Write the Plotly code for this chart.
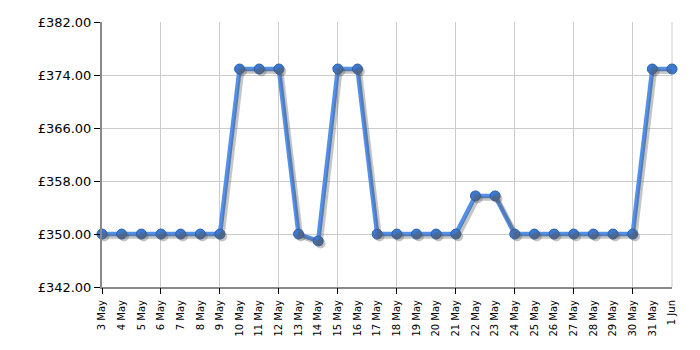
import plotly.graph_objects as go

dates = ["3 May", "4 May", "5 May", "6 May", "7 May", "8 May", "9 May", "10 May",
         "11 May", "12 May", "13 May", "14 May", "15 May", "16 May", "17 May",
         "18 May", "19 May", "20 May", "21 May", "22 May", "23 May", "24 May",
         "25 May", "26 May", "27 May", "28 May", "29 May", "30 May", "31 May", "1 Jun"]
prices = [349.99, 349.99, 349.99, 349.99, 349.99, 349.99, 349.99, 374.9,
          374.9, 374.9, 349.99, 348.95, 374.9, 374.9, 349.99,
          349.99, 349.99, 349.99, 349.99, 355.75, 355.75, 349.99,
          349.99, 349.99, 349.99, 349.99, 349.99, 349.99, 374.9, 374.9]
y_ticks = [342, 350, 358, 366, 374, 382]
y_labels = ["£%.2f" % v for v in y_ticks]
grid_every = 3

n = len(dates)
idx = list(range(n))
x0, x1 = 0, n - 1
ymin, ymax = 342, 382
# shadow offsets expressed in axis units
sx = 0.12
sy = 0.38

fig = go.Figure()
# invisible trace to activate grid axis
fig.add_trace(go.Scatter(x=idx[::grid_every], y=[ymin] * len(idx[::grid_every]), xaxis="x2", yaxis="y",
                         mode="markers", marker=dict(opacity=0), hoverinfo="skip", showlegend=False))
# shadow
fig.add_trace(go.Scatter(x=idx, y=prices, mode="lines+markers", xaxis="x3", yaxis="y3",
                         line=dict(color="rgba(90,90,90,0.35)", width=4.5),
                         marker=dict(size=10, color="rgba(90,90,90,0.35)"),
                         hoverinfo="skip", cliponaxis=False, showlegend=False))
# main line
fig.add_trace(go.Scatter(x=dates, y=prices, mode="lines+markers",
                         line=dict(color="#5290ea", width=4.5),
                         marker=dict(size=10, color="#3b7ad4", line=dict(color="#2b5fa8", width=1)),
                         cliponaxis=False, showlegend=False))

fig.update_layout(
    width=700, height=350,
    margin=dict(l=102, r=28, t=22, b=63),
    paper_bgcolor="white", plot_bgcolor="white",
    font=dict(family="DejaVu Sans, Verdana, sans-serif", color="#000"),
    xaxis=dict(type="category", categoryorder="array", categoryarray=dates,
               range=[x0, x1], tickmode="array", tickvals=dates, ticktext=dates,
               tickangle=-90, tickfont=dict(size=10), showgrid=False,
               showline=True, linecolor="#8a8a8a", linewidth=2,
               ticks="outside", ticklen=7, tickcolor="rgba(0,0,0,0)",
               zeroline=False),
    xaxis2=dict(overlaying="x", anchor="y", range=[x0, x1],
                tickmode="array", tickvals=idx[::grid_every], showticklabels=False,
                showgrid=True, gridcolor="#cccccc", gridwidth=1,
                ticks="outside", ticklen=6, tickcolor="#000", zeroline=False,
                showline=False),
    xaxis3=dict(overlaying="x", anchor="y3", range=[x0 - sx, x1 - sx], visible=False),
    yaxis=dict(range=[ymin, ymax], tickmode="array", tickvals=y_ticks, ticktext=y_labels,
               tickfont=dict(size=13),
               showgrid=True, gridcolor="#cccccc", gridwidth=1,
               showline=True, linecolor="#8a8a8a", linewidth=2,
               ticks="outside", ticklen=6, tickcolor="#000", zeroline=False),
    yaxis3=dict(overlaying="y", anchor="x3", range=[ymin + sy, ymax + sy], visible=False),
    shapes=[dict(type="line", xref="paper", yref="paper", x0=1, x1=1, y0=0, y1=1,
                 line=dict(color="#cccccc", width=1), layer="below")],
)

fig.write_html("out.html")
